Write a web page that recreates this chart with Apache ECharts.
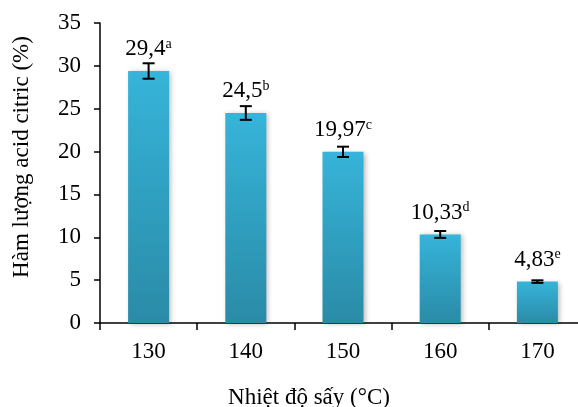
<!DOCTYPE html>
<html>
<head>
<meta charset="utf-8">
<script src="https://cdn.jsdelivr.net/npm/echarts@6/dist/echarts.min.js"></script>
<style>
  html, body { margin: 0; padding: 0; background: #fff; }
  #chart { width: 578px; height: 407px; }
</style>
</head>
<body>
<div id="chart"></div>
<script>
// Drying temperature (°C) and citric acid content (%)
const temperatures = ['130', '140', '150', '160', '170'];
const citricAcid = [29.4, 24.5, 19.97, 10.33, 4.83];
const errors = [0.9, 0.8, 0.6, 0.4, 0.15];
const valueLabels = ['29,4', '24,5', '19,97', '10,33', '4,83'];
const groupLetters = ['a', 'b', 'c', 'd', 'e'];
const yTicks = [0, 5, 10, 15, 20, 25, 30, 35];

const FONT = '"Liberation Serif", "Times New Roman", serif';
const FS = 23;

const chart = echarts.init(document.getElementById('chart'), null, { renderer: 'canvas' });

const option = {
  animation: false,
  backgroundColor: '#ffffff',
  textStyle: { fontFamily: FONT },
  grid: { left: 100, right: -8, top: 23, bottom: 84, containLabel: false, outerBoundsMode: 'none' },
  title: {
    text: 'Nhiệt độ sấy (°C)',
    left: 304,
    textAlign: 'center',
    top: 381,
    textStyle: { fontFamily: FONT, fontSize: FS, fontWeight: 'normal', color: '#000' }
  },
  graphic: [
    {
      // vertical axis title
      type: 'text',
      x: 22,
      y: 157,
      rotation: Math.PI / 2,
      style: {
        text: 'Hàm lượng acid citric (%)',
        fontFamily: FONT,
        fontSize: FS,
        fill: '#000',
        align: 'center',
        verticalAlign: 'middle'
      }
    }
  ],
  xAxis: {
    type: 'category',
    data: temperatures,
    axisLine: { lineStyle: { color: '#000', width: 1.5 } },
    axisTick: { show: true, alignWithLabel: false, length: 7, lineStyle: { color: '#000', width: 1.5 } },
    axisLabel: { color: '#000', fontSize: FS, fontFamily: FONT, margin: 17 }
  },
  yAxis: {
    type: 'value',
    min: yTicks[0],
    max: yTicks[yTicks.length - 1],
    interval: 5,
    axisLine: { show: true, lineStyle: { color: '#000', width: 1.5 } },
    axisTick: { show: true, length: 6, lineStyle: { color: '#000', width: 1.5 } },
    axisLabel: { color: '#000', fontSize: FS, fontFamily: FONT, margin: 19 },
    splitLine: { show: false }
  },
  series: [
    {
      type: 'bar',
      data: citricAcid,
      barWidth: 41,
      itemStyle: {
        color: new echarts.graphic.LinearGradient(0, 0, 0, 1, [
          { offset: 0, color: '#36b4d9' },
          { offset: 1, color: '#2a8ba7' }
        ]),
        shadowColor: 'rgba(0,0,0,0.28)',
        shadowBlur: 5,
        shadowOffsetX: 2,
        shadowOffsetY: 1
      },
      label: {
        // value labels with significance letters, placed above the bar end
        show: true,
        position: 'top',
        distance: 10,
        color: '#000',
        formatter: function (p) {
          return '{v|' + valueLabels[p.dataIndex] + '}{s|' + groupLetters[p.dataIndex] + '}';
        },
        rich: {
          v: { fontSize: FS, fontFamily: FONT, color: '#000' },
          s: { fontSize: 14, fontFamily: FONT, color: '#000', padding: [0, 0, 10, 0] }
        }
      },
      emphasis: { disabled: true },
      z: 2
    },
    {
      // error bars (± standard deviation)
      type: 'custom',
      data: citricAcid.map((v, i) => [i, v - errors[i], v + errors[i]]),
      renderItem: function (params, api) {
        const lo = api.coord([api.value(0), api.value(1)]);
        const hi = api.coord([api.value(0), api.value(2)]);
        const half = 6;
        const style = { stroke: '#000', lineWidth: 2 };
        return {
          type: 'group',
          children: [
            { type: 'line', shape: { x1: hi[0], y1: hi[1], x2: lo[0], y2: lo[1] }, style: style },
            { type: 'line', shape: { x1: hi[0] - half, y1: hi[1], x2: hi[0] + half, y2: hi[1] }, style: style },
            { type: 'line', shape: { x1: lo[0] - half, y1: lo[1], x2: lo[0] + half, y2: lo[1] }, style: style }
          ]
        };
      },
      z: 3
    }
  ]
};

chart.setOption(option);
</script>
</body>
</html>
